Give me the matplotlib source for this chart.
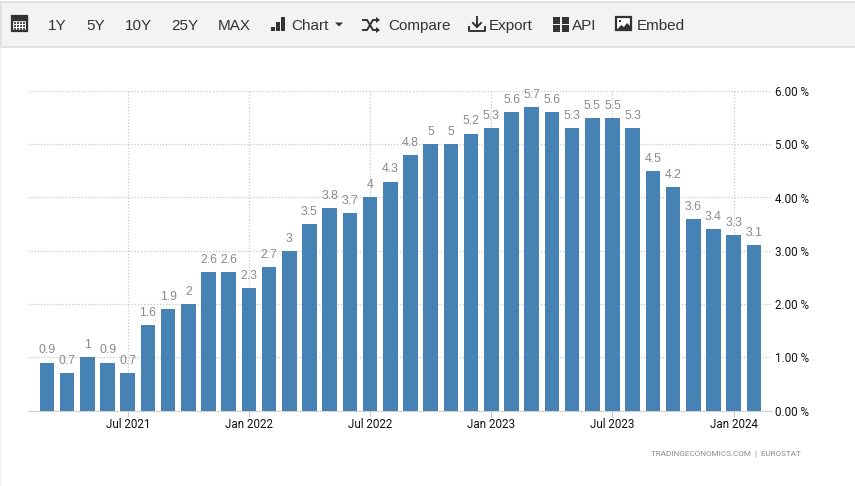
import matplotlib
matplotlib.use('Agg')
import matplotlib.pyplot as plt
from matplotlib.patches import Rectangle, Polygon

plt.rcParams['font.family'] = ['Liberation Sans', 'DejaVu Sans']

W, H = 855, 486

# Valeurs (mars 2021 -> fevrier 2024)
values = [0.9, 0.7, 1, 0.9, 0.7, 1.6, 1.9, 2, 2.6, 2.6, 2.3, 2.7,
          3, 3.5, 3.8, 3.7, 4, 4.3, 4.8, 5, 5, 5.2, 5.3, 5.6,
          5.7, 5.6, 5.3, 5.5, 5.5, 5.3, 4.5, 4.2, 3.6, 3.4, 3.3, 3.1]
value_labels = ['0.9', '0.7', '1', '0.9', '0.7', '1.6', '1.9', '2', '2.6', '2.6', '2.3', '2.7',
                '3', '3.5', '3.8', '3.7', '4', '4.3', '4.8', '5', '5', '5.2', '5.3', '5.6',
                '5.7', '5.6', '5.3', '5.5', '5.5', '5.3', '4.5', '4.2', '3.6', '3.4', '3.3', '3.1']
date_ticks = [4, 10, 16, 22, 28, 34]
date_labels = ['Jul 2021', 'Jan 2022', 'Jul 2022', 'Jan 2023', 'Jul 2023', 'Jan 2024']
y_ticks = [0, 1, 2, 3, 4, 5, 6]
y_labels = ['0.00 %', '1.00 %', '2.00 %', '3.00 %', '4.00 %', '5.00 %', '6.00 %']
menu_items = ['1Y', '5Y', '10Y', '25Y', 'MAX', 'Chart', 'Compare', 'Export', 'API', 'Embed']
menu_x = [48, 86, 125, 171, 218, 291, 388, 489, 572, 637]

fig = plt.figure(figsize=(W / 100, H / 100), dpi=100)

# Zone du graphique, placee en pixels
left, right, top, bottom = 28, 772, 91, 410.5
ax = fig.add_axes([left / W, 1 - bottom / H, (right - left) / W, (bottom - top) / H])
x = list(range(len(values)))
ax.bar(x, values, width=0.72, color='#4682b4', zorder=3)
ax.set_xlim(-0.94, 35.9)
ax.set_ylim(0, 6)

ax.grid(True, color='#c8c8c8', linestyle=(0, (1, 1.5)), linewidth=0.9, zorder=0)
for s in ['top', 'left', 'right']:
    ax.spines[s].set_visible(False)
ax.spines['bottom'].set_color('#c8c8c8')
ax.spines['bottom'].set_linestyle((0, (1, 1.5)))
ax.spines['bottom'].set_zorder(2)

ax.set_xticks(date_ticks, date_labels, fontsize=8.4, family='Roboto', color='#111111')
ax.tick_params(axis='x', length=4, width=0.8, color='#c8c8c8', pad=1.5)
ax.yaxis.tick_right()
ax.set_yticks(y_ticks, y_labels, fontsize=8.4, family='Roboto', color='#111111')
ax.tick_params(axis='y', length=0, pad=2)

# Etiquettes au-dessus des barres
for i, v in enumerate(values):
    ax.annotate(value_labels[i], (i, v), xytext=(0, 4.4), textcoords='offset points',
                ha='center', va='bottom', fontsize=8.8, color='#8a8a8a', zorder=5,
                annotation_clip=False)

# Calque en pixels pour la barre de menu et la source
ov = fig.add_axes([0, 0, 1, 1], facecolor='none')
ov.set_xlim(0, W)
ov.set_ylim(H, 0)
ov.axis('off')

ov.add_patch(Rectangle((1, 2.5), W, 45, facecolor='#f3f3f3', edgecolor='#dddddd', linewidth=1.2))
ov.add_patch(Rectangle((0, 47), 1.2, H, facecolor='#f0f0f0', edgecolor='none'))

for label, px in zip(menu_items, menu_x):
    ov.text(px, 30, label, fontsize=11, color='#333333', ha='left', va='baseline')

dark = '#333333'
# calendrier
ov.add_patch(Rectangle((12, 16.5), 15, 15, facecolor='#ffffff', edgecolor=dark, linewidth=1.6))
ov.add_patch(Rectangle((12, 16.5), 15, 4, facecolor=dark, edgecolor=dark))
for cx in [15, 18, 21, 24]:
    for cy in [23, 26, 29]:
        ov.add_patch(Rectangle((cx - 0.8, cy - 0.8), 1.7, 1.7, facecolor='#555555', edgecolor='none'))
# barres de Chart
for bx, by in [(271, 27), (276, 22), (281, 17)]:
    ov.add_patch(Rectangle((bx, by), 4, 31 - by, facecolor=dark, edgecolor='none'))
# triangle du menu
ov.add_patch(Polygon([(335, 22.5), (343, 22.5), (339, 26.5)], facecolor=dark, edgecolor='none'))
# Compare
ov.plot([363, 367, 373, 378], [20, 20, 30, 30], color=dark, lw=1.4)
ov.plot([363, 367, 373, 378], [30, 30, 20, 20], color=dark, lw=1.4)
ov.add_patch(Polygon([(376, 17), (380, 20), (376, 23)], facecolor=dark, edgecolor='none'))
ov.add_patch(Polygon([(376, 27), (380, 30), (376, 33)], facecolor=dark, edgecolor='none'))
# Export
ov.plot([477, 477], [17, 27], color=dark, lw=1.4)
ov.plot([473, 477, 481], [23, 27, 23], color=dark, lw=1.4)
ov.plot([469, 469, 485, 485], [27, 31, 31, 27], color=dark, lw=1.4)
# API
for bx, by in [(553, 17), (562, 17), (553, 25), (562, 25)]:
    ov.add_patch(Rectangle((bx, by), 7, 7, facecolor=dark, edgecolor='none'))
# Embed
ov.add_patch(Rectangle((616, 17.5), 15, 13, facecolor='#ffffff', edgecolor=dark, linewidth=1.6))
ov.add_patch(Polygon([(617, 30), (621, 25), (624, 27), (627, 23), (631, 27), (631, 30)],
                     facecolor=dark, edgecolor='none'))
ov.add_patch(Rectangle((618.5, 20), 2.5, 2.5, facecolor=dark, edgecolor='none'))

ov.text(801, 454, 'TRADINGECONOMICS.COM  |  EUROSTAT', fontsize=5.9, family='Roboto', color='#8c8c96',
        ha='right', va='center')

fig.savefig('out.png', dpi=100)
